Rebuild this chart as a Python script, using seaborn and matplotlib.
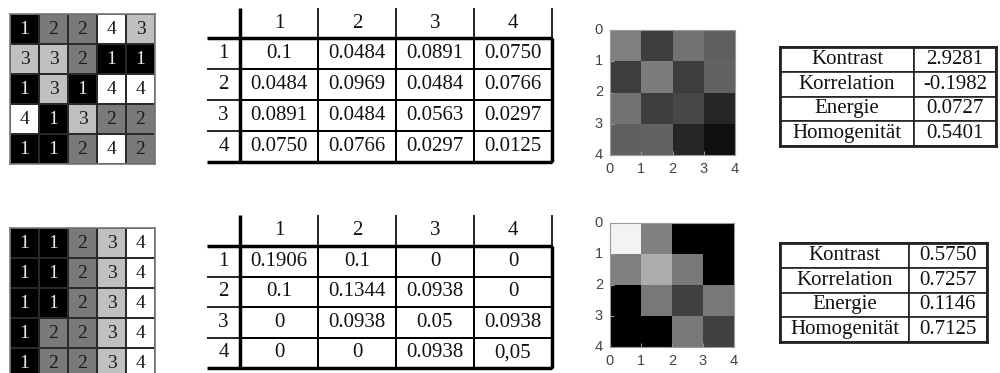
import numpy as np
import seaborn as sns
import matplotlib.pyplot as plt
from matplotlib.colors import ListedColormap

# ---- data -------------------------------------------------------------
img_top = np.array([[1, 2, 2, 4, 3],
                    [3, 3, 2, 1, 1],
                    [1, 3, 1, 4, 4],
                    [4, 1, 3, 2, 2],
                    [1, 1, 2, 4, 2]])
img_bottom = np.array([[1, 1, 2, 3, 4],
                       [1, 1, 2, 3, 4],
                       [1, 1, 2, 3, 4],
                       [1, 2, 2, 3, 4],
                       [1, 2, 2, 3, 4]])

glcm_top = np.array([[0.1, 0.0484, 0.0891, 0.0750],
                     [0.0484, 0.0969, 0.0484, 0.0766],
                     [0.0891, 0.0484, 0.0563, 0.0297],
                     [0.0750, 0.0766, 0.0297, 0.0125]])
glcm_bottom = np.array([[0.1906, 0.1, 0, 0],
                        [0.1, 0.1344, 0.0938, 0],
                        [0, 0.0938, 0.05, 0.0938],
                        [0, 0, 0.0938, 0.05]])

# table texts as printed (formats differ from cell to cell)
glcm_top_txt = [["0.1", "0.0484", "0.0891", "0.0750"],
                ["0.0484", "0.0969", "0.0484", "0.0766"],
                ["0.0891", "0.0484", "0.0563", "0.0297"],
                ["0.0750", "0.0766", "0.0297", "0.0125"]]
glcm_bottom_txt = [["0.1906", "0.1", "0", "0"],
                   ["0.1", "0.1344", "0.0938", "0"],
                   ["0", "0.0938", "0.05", "0.0938"],
                   ["0", "0", "0.0938", "0,05"]]
level_labels = ["1", "2", "3", "4"]
axis_ticks = [0, 1, 2, 3, 4]

stat_names = ["Kontrast", "Korrelation", "Energie", "Homogenität"]
stats_top = ["2.9281", "-0.1982", "0.0727", "0.5401"]
stats_bottom = ["0.5750", "0.7257", "0.1146", "0.7125"]

W, H = 1000, 373
SERIF = "Liberation Serif"
fig = plt.figure(figsize=(W / 100, H / 100), dpi=100)


def px_axes(x0, y0, x1, y1):
    return fig.add_axes([x0 / W, 1 - y1 / H, (x1 - x0) / W, (y1 - y0) / H])


level_cmap = ListedColormap(["black", "#7a7a7a", "#c0c0c0", "white"])


def image_grid(box, data):
    ax = px_axes(*box)
    sns.heatmap(data, cmap=level_cmap, vmin=0.5, vmax=4.5, annot=True, fmt="d",
                cbar=False, linewidths=1.2, linecolor="#2a2a2a", ax=ax,
                annot_kws={"fontfamily": SERIF, "fontsize": 14})
    for t in ax.texts:
        t.set_color("#e8e8e8" if t.get_text() == "1" else "#1a1a1a")
    ax.set_xticks([])
    ax.set_yticks([])
    for s in ax.spines.values():
        s.set_visible(True)
        s.set_color("#7a7a7a")
        s.set_linewidth(1.2)


def glcm_table(box, data_top, col_w, row_h, texts):
    x0, y0, x1, y1 = box
    data_left = 240
    ax = px_axes(x0, y0, x1, y1)
    sns.heatmap(np.zeros((4, 4)), cmap=ListedColormap(["white"]), annot=np.array(texts),
                fmt="", cbar=False, linewidths=1.2, linecolor="black", ax=ax,
                annot_kws={"fontfamily": SERIF, "fontsize": 15, "color": "#111"})
    left = (x0 - data_left) / col_w
    right = (x1 - data_left) / col_w
    top = (y0 - data_top) / row_h
    bottom = (y1 - data_top) / row_h
    hdr = (y0 + 2 - data_top) / row_h
    lab = (207 - data_left) / col_w
    ax.set_xlim(left, right)
    ax.set_ylim(bottom, top)
    ax.set_xticks([])
    ax.set_yticks([])
    # header: column labels and vertical separators
    ax.vlines([1, 2, 3, 4], hdr, 0, color="black", lw=1.2)
    ax.vlines([0], hdr, 4, color="black", lw=2.5)
    for j, s in enumerate(level_labels):
        ax.text(j + 0.5, hdr / 2, s, ha="center", va="center",
                fontfamily=SERIF, fontsize=15, color="#111")
    # row labels and horizontal separators
    ax.hlines([1, 2, 3], lab, 0, color="black", lw=1.2)
    ax.hlines([0, 4], lab, 4, color="black", lw=2.5)
    ax.vlines([4], 0, 4, color="black", lw=2.5)
    for i, s in enumerate(level_labels):
        ax.text(lab / 2, i + 0.5, s, ha="center", va="center",
                fontfamily=SERIF, fontsize=15, color="#111")


def glcm_map(box, data):
    ax = px_axes(*box)
    sns.heatmap(data, cmap="gray", vmin=0, vmax=0.2, cbar=False, ax=ax)
    ax.set_xticks(axis_ticks)
    ax.set_yticks(axis_ticks)
    ax.set_xticklabels(axis_ticks, rotation=0)
    ax.set_yticklabels(axis_ticks, rotation=0)
    ax.tick_params(direction="in", length=3, width=0.8, color="#999",
                   labelcolor="#444", labelsize=10.5, pad=5)
    for t in ax.get_xticklabels() + ax.get_yticklabels():
        t.set_fontfamily("Liberation Sans")
    for s in ax.spines.values():
        s.set_visible(True)
        s.set_color("#999")
        s.set_linewidth(0.8)


def stats_table(box, split, values):
    x0, y0, x1, y1 = box
    ax = px_axes(x0, y0, x1, y1)
    w0 = (split - x0) / (x1 - x0)
    tab = ax.table(cellText=[[n, v] for n, v in zip(stat_names, values)],
                   colWidths=[w0, 1 - w0], cellLoc="center", bbox=[0, 0, 1, 1])
    tab.auto_set_font_size(False)
    for cell in tab.get_celld().values():
        cell.set_linewidth(1.2)
        cell.set_edgecolor("#222")
        cell.get_text().set_fontfamily(SERIF)
        cell.get_text().set_fontsize(15)
        cell.get_text().set_color("#111")
    ax.set_xticks([])
    ax.set_yticks([])
    for s in ax.spines.values():
        s.set_linewidth(2)
        s.set_color("#222")


image_grid((10, 14, 155, 164), img_top)
image_grid((10, 228, 155, 378), img_bottom)

glcm_table((205, 6, 556, 165), 38, 78, 31, glcm_top_txt)
glcm_table((205, 213, 556, 371), 246, 78, 30.5, glcm_bottom_txt)

glcm_map((610, 30, 735, 155), glcm_top)
glcm_map((610, 223, 734, 347), glcm_bottom)

stats_table((780, 47, 996, 146), 914, stats_top)
stats_table((780, 243, 987, 342), 909, stats_bottom)

fig.savefig("out.png", dpi=100)
